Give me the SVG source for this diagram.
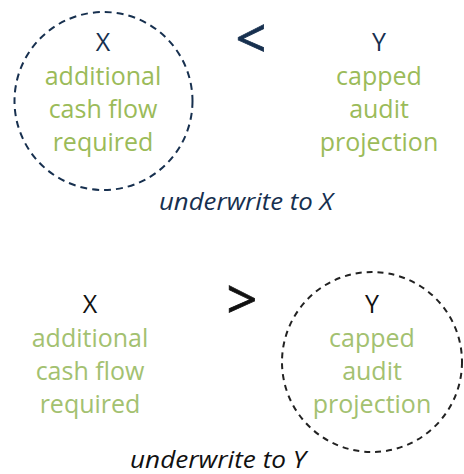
<svg xmlns="http://www.w3.org/2000/svg" width="464" height="474" viewBox="0 0 464 474">
<style>
.t{font-family:"Open Sans","Liberation Sans",sans-serif;font-size:25px;text-anchor:middle}
.n1{fill:#17304f}
.n2{fill:#111111}
.g1{fill:#9bbb59}
.g2{fill:#a3c170}
.u{font-family:"Open Sans","Liberation Sans",sans-serif;font-size:23px;font-style:italic;text-anchor:middle}
.op{font-family:"Open Sans","Liberation Sans",sans-serif;font-size:54px;text-anchor:middle;stroke-width:0.8}
.c1{fill:none;stroke:#17304f;stroke-width:2;stroke-dasharray:7 5}
.c2{fill:none;stroke:#222222;stroke-width:2;stroke-dasharray:6 5}
</style>
<g id="top">
<g id="x-top">
<circle class="c1" cx="103.5" cy="101" r="89"/>
<text class="t n1" x="103" y="51">X</text>
<text class="t g1" x="103" y="85">additional</text>
<text class="t g1" x="103" y="118">cash flow</text>
<text class="t g1" x="103" y="151">required</text>
</g>
<g id="lt">
<text class="op n1" x="251" y="58" stroke="#17304f">&lt;</text>
</g>
<g id="y-top">
<text class="t n1" x="379" y="51">Y</text>
<text class="t g1" x="379" y="85">capped</text>
<text class="t g1" x="379" y="118">audit</text>
<text class="t g1" x="379" y="151">projection</text>
</g>
<text id="u-top" class="u n1" x="246" y="210" textLength="174" lengthAdjust="spacingAndGlyphs">underwrite to X</text>
</g>
<g id="bottom">
<g id="x-bot">
<text class="t n2" x="90" y="313">X</text>
<text class="t g2" x="90" y="347">additional</text>
<text class="t g2" x="90" y="380">cash flow</text>
<text class="t g2" x="90" y="413">required</text>
</g>
<g id="gt">
<text class="op n2" x="242" y="319" stroke="#111111">&gt;</text>
</g>
<g id="y-bot">
<circle class="c2" cx="372" cy="362" r="90"/>
<text class="t n2" x="372" y="313">Y</text>
<text class="t g2" x="372" y="347">capped</text>
<text class="t g2" x="372" y="380">audit</text>
<text class="t g2" x="372" y="413">projection</text>
</g>
<text id="u-bot" class="u n2" x="218" y="468" textLength="176" lengthAdjust="spacingAndGlyphs">underwrite to Y</text>
</g>
<g id="connectors"/>
</svg>
